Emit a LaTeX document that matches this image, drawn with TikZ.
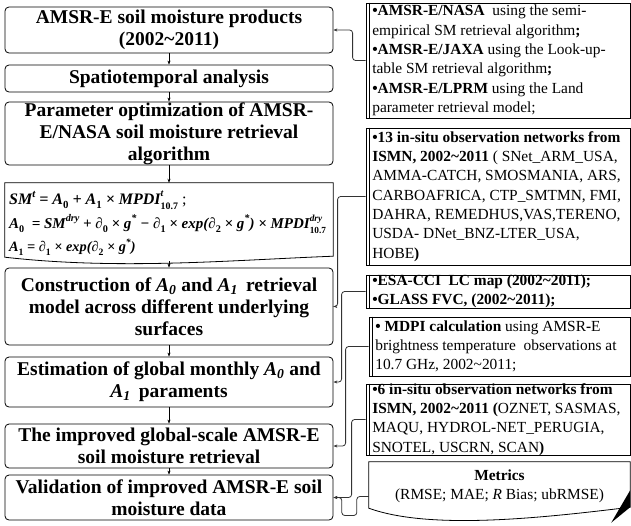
\documentclass[tikz,border=0pt]{standalone}
\usepackage{fontspec}
\setmainfont{Liberation Serif}
\usepackage{graphicx}
\usetikzlibrary{arrows.meta,calc}
\newcommand\ltitlefont{\fontsize{19.5}{22}\selectfont\bfseries}
\newcommand\rtextfont{\fontsize{15.4}{19.3}\selectfont}
\newcommand\formbig{\fontsize{16}{18}\selectfont\bfseries\itshape}
\newcommand\formmid{\fontsize{14.3}{18}\selectfont\bfseries\itshape}
\newcommand\formsmall{\fontsize{15}{16}\selectfont\bfseries\itshape}
\newcommand\tld{\textasciitilde}
\newcommand\sbs[1]{\raisebox{-0.25em}{\scalebox{0.68}{\upshape #1}}}
\newcommand\sps[1]{\raisebox{0.45em}{\scalebox{0.68}{#1}}}
\newcommand\spsb[2]{\makebox[0pt][l]{\raisebox{0.5em}{\scalebox{0.62}{#1}}}\raisebox{-0.3em}{\scalebox{0.62}{\upshape #2}}}
\begin{document}
\begin{tikzpicture}[x=1pt,y=-1pt,
  lbox/.style={draw, rounded corners=4pt, line width=0.8pt, minimum width=328pt, align=center, font=\ltitlefont, inner sep=0pt},
  rbox/.style={draw, line width=0.8pt, minimum width=264pt, inner sep=0pt},
  rtext/.style={anchor=west, align=left, font=\rtextfont, inner sep=0pt},
  fline/.style={anchor=west, inner sep=0pt},
  flow/.style={-{Stealth[length=4pt,width=3pt]}, line width=0.6pt},
  link/.style={-{Stealth[length=4pt,width=3pt]}, line width=0.8pt, draw=black!80, rounded corners=3pt},
  outline/.style={line width=0.8pt}
]
\useasboundingbox (0,0) rectangle (631,525);

% left column
\node[lbox, minimum height=46pt] (b1) at (169,30) {AMSR-E soil moisture products\\(2002\tld2011)};
\node[lbox, minimum height=27pt] (b2) at (169,78.5) {Spatiotemporal analysis};
\node[lbox, minimum height=63pt] (b3) at (169,133.5) {Parameter optimization of AMSR-\\E/NASA soil moisture retrieval\\algorithm};
\node[minimum width=328pt, minimum height=79pt, inner sep=0pt] (b4) at (169,222.5) {};
\node[fline, font=\formbig] (f1) at (9,200) {SM\sps{t} = A\sbs{0} + A\sbs{1} × MPDI\spsb{t}{10.7} {\upshape\mdseries ;}};
\node[fline, font=\formsmall] (f2) at (9,224) {A\sbs{0}\ \ = SM\sps{dry} + ∂\sbs{0} × g\sps{*} − ∂\sbs{1} × exp(∂\sbs{2} × g\sps{*}) × MPDI\spsb{dry}{10.7}};
\node[fline, font=\formmid] (f3) at (9,247) {A\sbs{1} = ∂\sbs{1} × exp(∂\sbs{2} × g\sps{*})};
\draw[outline] (b4.north west) -- (b4.north east) -- ([yshift=6pt]b4.south east)
  .. controls ($(b4.south east)+(-103,-2)$) and ($(b4.south west)+(115,8)$) .. ([yshift=5pt]b4.south west) -- cycle;
\node[lbox, minimum height=77pt] (b5) at (169,306.5) {Construction of {\itshape A\textsubscript{0}} and {\itshape A\textsubscript{1}}\, retrieval\\model across different underlying\\surfaces};
\node[lbox, minimum height=50pt] (b6) at (169,382) {Estimation of global monthly {\itshape A\textsubscript{0}} and\\{\itshape A\textsubscript{1}}\, paraments};
\node[lbox, minimum height=44pt] (b7) at (169,446) {The improved global-scale AMSR-E\\soil moisture retrieval};
\node[lbox, minimum height=45pt] (b8) at (169,497.5) {Validation of improved AMSR-E soil\\moisture data};

\draw[flow] (b1) -- (b2);
\draw[flow] (b2) -- (b3);
\draw[flow] (b3) -- (b4);
\draw[flow] ([yshift=1pt]b4.south) -- (b5);
\draw[flow] (b5) -- (b6);
\draw[flow] (b6) -- (b7);
\draw[flow] (b7) -- (b8);

% right column boxes
\node[rbox, minimum height=115pt] (r1) at (498,60.5) {};
\node[rbox, minimum height=137pt] (r2) at (498,196.5) {};
\node[rbox, minimum height=33pt] (r3) at (498,291.5) {};
\node[rbox, minimum width=261pt, minimum height=59pt] (r4) at (499.5,346.5) {};
\node[rbox, minimum height=71pt] (r5) at (498,419.5) {};
\foreach \r in {r1,r2,r3,r4,r5}
  \draw[outline] ([xshift=4pt]\r.north west) -- ([xshift=4pt]\r.south west);

% right column texts
\node[rtext] (t1) at ([xshift=6.5pt]r1.west)
 {\textbf{•AMSR-E/NASA}\ \ using the semi-\\empirical SM retrieval algorithm\textbf{;}\\\textbf{•AMSR-E/JAXA} using the Look-up-\\table SM retrieval algorithm\textbf{;}\\\textbf{•AMSR-E/LPRM} using the Land\\parameter retrieval model;};
\node[rtext] (t2) at ([xshift=6.5pt]r2.west)
 {\textbf{•13 in-situ observation networks from}\\\textbf{ISMN, 2002\tld2011} ( SNet\_ARM\_USA,\\AMMA-CATCH, SMOSMANIA, ARS,\\CARBOAFRICA, CTP\_SMTMN, FMI,\\DAHRA, REMEDHUS,VAS,TERENO,\\USDA- DNet\_BNZ-LTER\_USA,\\HOBE\textbf{)}};
\node[rtext] (t3) at ([xshift=6.5pt]r3.west)
 {\textbf{•ESA-CCI\ \ LC map (2002\tld2011);}\\\textbf{•GLASS FVC, (2002\tld2011);}};
\node[rtext] (t4) at ([xshift=6.5pt]r4.west)
 {\textbf{• MDPI calculation} using AMSR\textbf{-}E\\brightness temperature\ \ observations at\\10.7 GHz, 2002\tld2011;};
\node[rtext] (t5) at ([xshift=6.5pt]r5.west)
 {\textbf{•6 in-situ observation networks from}\\\textbf{ISMN, 2002\tld2011 (}OZNET, SASMAS,\\MAQU, HYDROL-NET\_PERUGIA,\\SNOTEL, USCRN, SCAN\textbf{)}};

% metrics
\node[minimum width=261pt, minimum height=53pt, inner sep=0pt] (m) at (499.5,488.5) {};
\node[align=center, font=\rtextfont, inner sep=0pt] (mt) at (499.5,486) {\textbf{Metrics}\\(RMSE; MAE; \textit{R} Bias; ubRMSE)};
\draw[outline] (m.north west) -- (m.north east) -- ([yshift=8pt]m.south east)
  .. controls ($(m.south east)+(-90,3)$) and ($(m.south west)+(61,15)$) .. ([yshift=7pt]m.south west) -- cycle;
\fill ([yshift=25pt]m.south east) -- ([yshift=8pt]m.south east) -- ($(m.south east)+(-19,7.5)$) -- cycle;

% connectors
\draw[link] (r1.west) -- ++(-13,0) |- (b1.east);
\draw[link] (r2.west) -- ++(-28,0) |- (b5.east);
\draw[link] (r3.west) -- ++(-24,0) |- (b6.east);
\draw[link] (r4.west) -- ++(-23,0) |- (b7.east);
\draw[link] (r5.west) -- ++(-14,0) |- (b8.east);
\coordinate (mi) at ([yshift=-8pt]m.west);
\draw[link] (mi) -- ++(-12,0) -- ++(0,19) -- ++(-15,0) |- (b8.east);
\end{tikzpicture}
\end{document}
